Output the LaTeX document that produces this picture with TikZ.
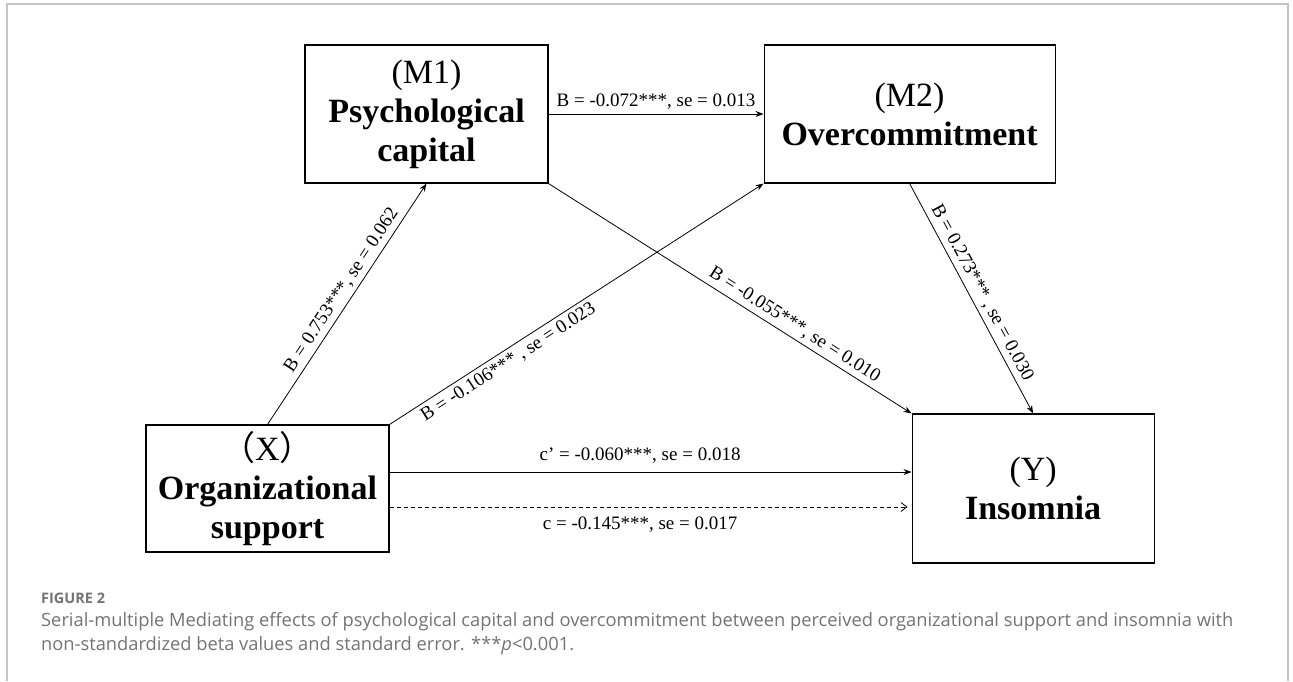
\documentclass[tikz,border=0pt]{standalone}
\usepackage{fontspec}
\setmainfont{Liberation Serif}
\newfontfamily\capfont{Open Sans}
\newfontfamily\cjk{Noto Sans CJK SC}
\usetikzlibrary{positioning,arrows.meta}
\definecolor{capgray}{HTML}{737373}
\definecolor{framegray}{HTML}{C4C4C4}
\tikzset{
>={Stealth[length=8pt,width=6pt]},
var/.style={draw, line width=1.1pt, align=center, inner sep=0pt, font=\fontsize{34}{39}\selectfont},
link/.style={->, line width=0.8pt},
coef/.style={sloped, font=\fontsize{19}{22}\selectfont, inner sep=4pt},
}

\begin{document}
\begin{tikzpicture}[x=1pt, y=-1pt]
        \useasboundingbox (0,0) rectangle (1293,681);
        \draw[framegray, line width=1.2pt] (7,681) -- (7,4) -- (1288,4) -- (1288,681);
        \node[var, minimum width=243pt, minimum height=138pt] (1) at (426.5,114) {(M1)\\\textbf{Psychological}\\\textbf{capital}};
        \node[var, minimum width=291pt, minimum height=138pt, right=215pt of 1] (2) {(M2)\\\textbf{Overcommitment}};
        \node[var, minimum width=243pt, minimum height=127pt] (3) at (267.5,488.5) {{\cjk （}X{\cjk ）}\\\textbf{Organizational}\\\textbf{support}};
        \node[var, minimum width=242pt, minimum height=149pt, right=522pt of 3] (4) {(Y)\\\textbf{Insomnia}};
        \draw
        (3.north) edge[link] node[coef, above, pos=0.53] {B = 0.753***, se = 0.062} (1.south)
        (3.north east) edge[link] node[coef, below, pos=0.3] {B = -0.106*** , se = 0.023} (2.south west)
        (1.east) edge[link] node[coef, above] {B = -0.072***, se = 0.013} (2.west)
        (1.south east) edge[link] node[coef, above, pos=0.66] {B = -0.055***, se = 0.010} (4.north west)
        (2.south) edge[link] node[coef, above, pos=0.5] {B = 0.273*** , se = 0.030} (4.north)
        ([yshift=16.5pt]3.east) edge[link] node[coef, above, pos=0.48, inner sep=8pt] {c’ = -0.060***, se = 0.018} ([yshift=16.5pt]4.west)
        ([yshift=-18.5pt]3.east) edge[link, -{Straight Barb[length=6pt,width=9pt]}, dash pattern=on 4pt off 3pt, shorten >=4pt] node[coef, below, pos=0.48, inner sep=9pt] {c = -0.145***, se = 0.017} ([yshift=-18.5pt]4.west)
        ;
        \node[anchor=west, inner sep=0pt, text=capgray, font=\capfont\bfseries\fontsize{14.5}{16}\selectfont] (fig) at (41,598) {FIGURE 2};
        \node[anchor=west, inner sep=0pt, text=capgray, font=\capfont\fontsize{18.3}{22}\selectfont] (cap1) at (41,622) {Serial-multiple Mediating effects of psychological capital and overcommitment between perceived organizational support and insomnia with};
        \node[anchor=west, inner sep=0pt, text=capgray, font=\capfont\fontsize{18.3}{22}\selectfont] (cap2) at (41,646) {non-standardized beta values and standard error. ***\textit{p}<0.001.};
    \end{tikzpicture}
\end{document}
